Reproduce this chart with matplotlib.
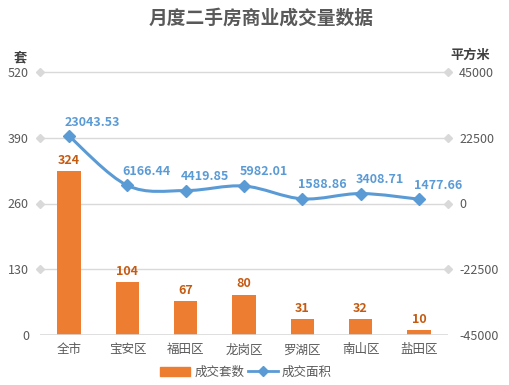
import matplotlib
matplotlib.use("Agg")
import matplotlib.pyplot as plt
from matplotlib.path import Path
from matplotlib.patches import PathPatch
from matplotlib.lines import Line2D
from matplotlib.patches import Patch
import numpy as np

plt.rcParams['font.family'] = ['Noto Sans CJK SC', 'DejaVu Sans']

title = "月度二手房商业成交量数据"
categories = ["全市", "宝安区", "福田区", "龙岗区", "罗湖区", "南山区", "盐田区"]
units = [324, 104, 67, 80, 31, 32, 10]
area = [23043.53, 6166.44, 4419.85, 5982.01, 1588.86, 3408.71, 1477.66]
left_ticks = [0, 130, 260, 390, 520]
right_ticks = [-45000, -22500, 0, 22500, 45000]
legend_labels = ["成交套数", "成交面积"]

bar_color = "#ED7D31"
line_color = "#5B9BD5"
txt_gray = "#595959"

fig = plt.figure(figsize=(5.1, 3.85), dpi=100)
ax = fig.add_axes([40/510, 1-335/385, 408/510, 263/385])
ax2 = ax.twinx()

x = np.arange(len(categories))
ax.bar(x, units, width=0.4, color=bar_color, zorder=3)
ax.set_xlim(-0.5, len(categories)-0.5)
ax.set_ylim(0, 520)
ax2.set_ylim(-45000, 45000)

# gridlines with diamond ends
for v in left_ticks[1:]:
    ax.plot([-0.5, len(categories)-0.5], [v, v], color="#D9D9D9", lw=1,
            marker="D", ms=4, mfc="#D9D9D9", mec="#D9D9D9", zorder=1, clip_on=False)
ax.axhline(0, color="#D9D9D9", lw=1.2, zorder=4)

for s in ax.spines.values():
    s.set_visible(False)
for s in ax2.spines.values():
    s.set_visible(False)

ax.set_yticks(left_ticks)
ax.set_yticklabels([str(t) for t in left_ticks], fontsize=9, color=txt_gray)
ax.tick_params(axis='y', length=0, pad=8)
ax2.set_yticks(right_ticks)
ax2.set_yticklabels([str(t) for t in right_ticks], fontsize=9, color=txt_gray)
ax2.tick_params(axis='y', length=0, pad=8)
ax.set_xticks(x)
ax.set_xticklabels(categories, fontsize=9, color=txt_gray)
ax.tick_params(axis='x', length=0, pad=6)

# bar labels
for xi, u in zip(x, units):
    ax.text(xi, u + 8, str(u), ha='center', va='bottom', fontsize=9,
            fontweight='bold', color="#C55A11", zorder=5)

# smooth line (Catmull-Rom -> cubic Bezier)
pts = np.column_stack([x, area]).astype(float)
verts = [tuple(pts[0])]
codes = [Path.MOVETO]
n = len(pts)
t = 1/6
for i in range(n-1):
    p0 = pts[i-1] if i > 0 else pts[i]
    p1 = pts[i]
    p2 = pts[i+1]
    p3 = pts[i+2] if i+2 < n else pts[i+1]
    c1 = p1 + (p2 - p0) * t
    c2 = p2 - (p3 - p1) * t
    verts += [tuple(c1), tuple(c2), tuple(p2)]
    codes += [Path.CURVE4]*3
path = Path(verts, codes)
ax2.add_patch(PathPatch(path, fill=False, edgecolor=line_color, lw=2.2, zorder=5))
ax2.plot(x, area, ls='none', marker='D', ms=6, color=line_color, zorder=6)
for xi, a in zip(x, area):
    ax2.text(xi - 0.08, a + 2600, f"{a:.2f}", ha='left', va='bottom', fontsize=9,
             fontweight='bold', color=line_color, zorder=7)

# axis unit labels
fig.text(20/510, 1-57/385, "套", ha='center', va='center', fontsize=9.5,
         fontweight='bold', color="#404040")
fig.text(470/510, 1-55/385, "平方米", ha='center', va='center', fontsize=9.5,
         fontweight='bold', color="#404040")

fig.text(261/510, 1-18/385, title, ha='center', va='center', fontsize=13.5,
         fontweight='bold', color="#595959")

handles = [Patch(color=bar_color),
           Line2D([0], [0], color=line_color, lw=2, marker='D', ms=5)]
fig.legend(handles, legend_labels, loc='center', bbox_to_anchor=(246/510, 1-372/385),
           ncol=2, frameon=False, fontsize=9, handlelength=2.4, handleheight=0.7,
           columnspacing=0.3, handletextpad=0.3, labelcolor=txt_gray)

fig.savefig("out.png", dpi=100)
